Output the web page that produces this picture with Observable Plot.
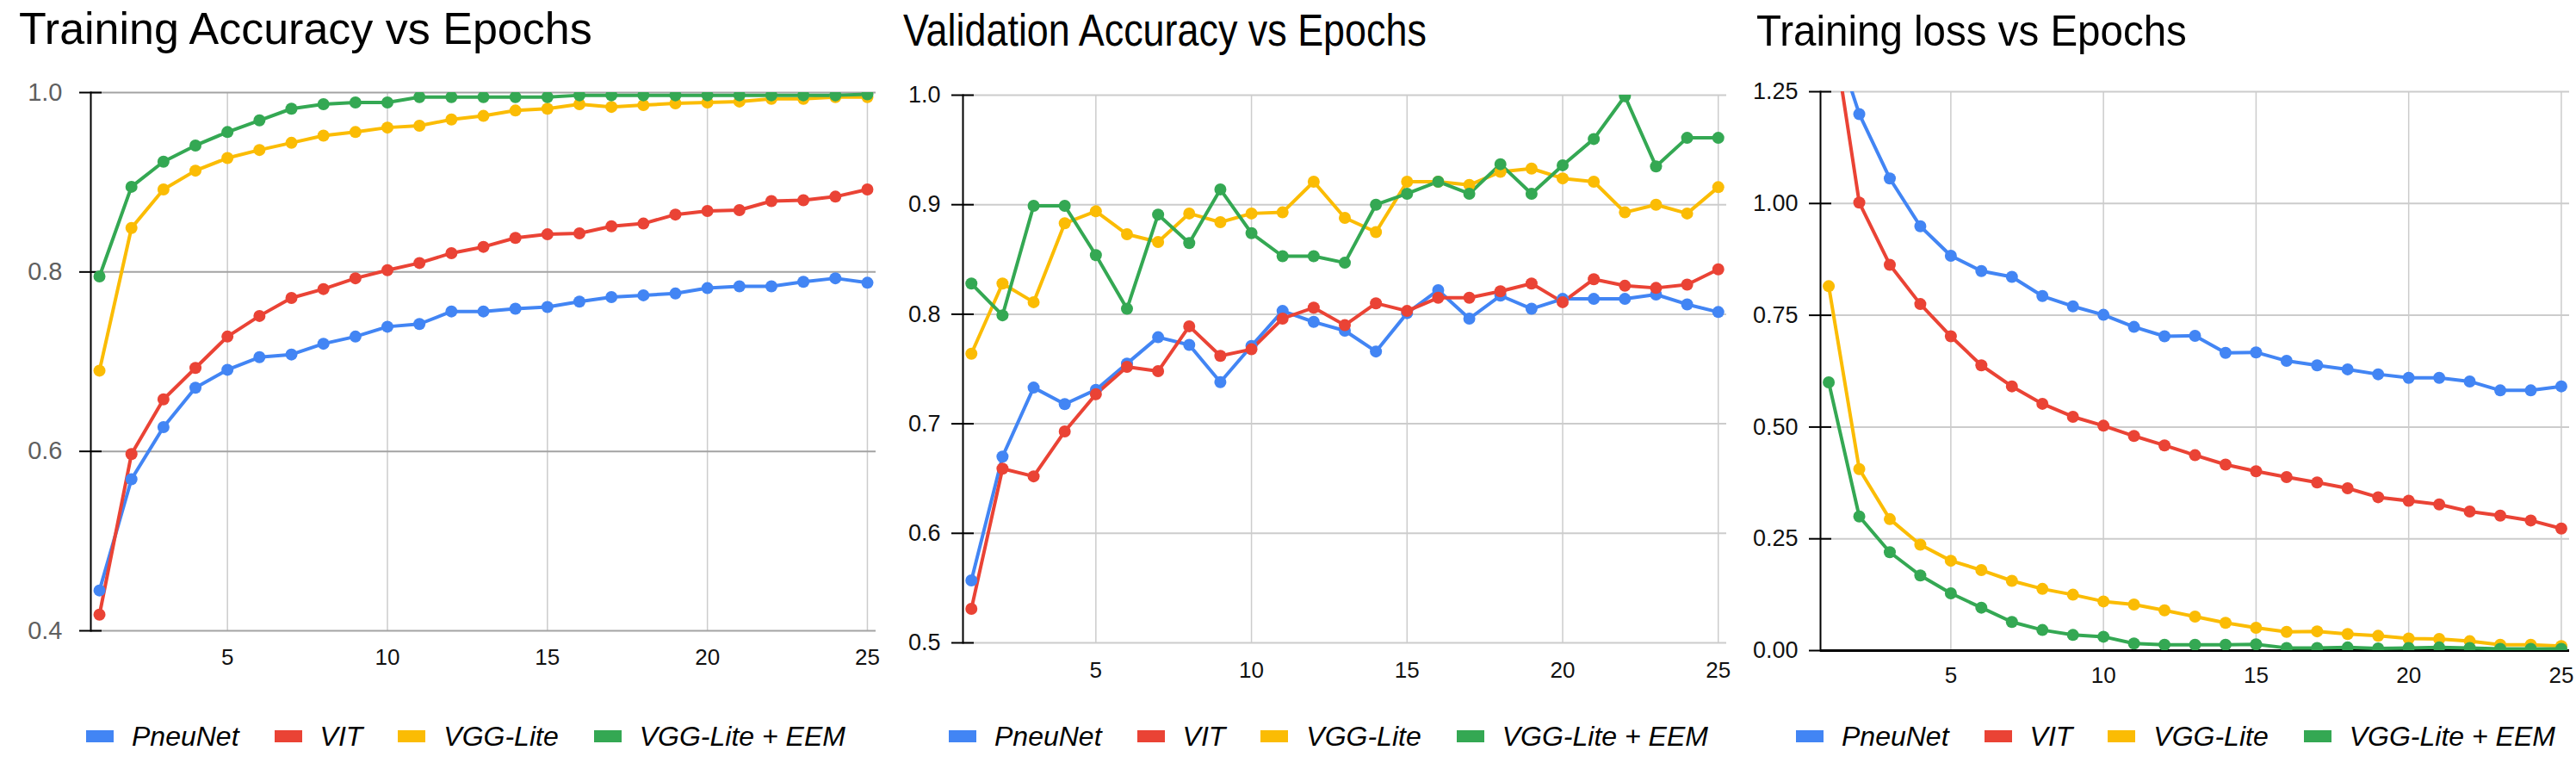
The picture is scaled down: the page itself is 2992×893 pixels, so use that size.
<!DOCTYPE html>
<html>
<head>
<meta charset="utf-8">
<script src="https://cdn.jsdelivr.net/npm/d3@7"></script>
<script src="https://cdn.jsdelivr.net/npm/@observablehq/plot@0.6"></script>
<style>
  html, body { margin: 0; padding: 0; background: #fff; }
  #root { position: relative; width: 2992px; height: 893px; overflow: hidden; background: #fff;
          font-family: "Liberation Sans", Arial, sans-serif; }
  .title { position: absolute; color: #000; white-space: nowrap; transform-origin: 0 0; }
  .legend { position: absolute; top: 835px; height: 40px; display: flex; align-items: center; white-space: nowrap; }
  .legend .item { display: flex; align-items: center; margin-right: 41px; }
  .legend .sw { width: 32px; height: 14px; margin-right: 21px; }
  .legend .lbl { font-size: 32px; font-style: italic; color: #000; }
  .panel { position: absolute; top: 0; }
</style>
</head>
<body>
<div id="root"></div>
<script>
// ---- data ----
const epochs = [1,2,3,4,5,6,7,8,9,10,11,12,13,14,15,16,17,18,19,20,21,22,23,24,25];
const seriesNames = ["PneuNet", "VIT", "VGG-Lite", "VGG-Lite + EEM"];
const seriesColors = ["#4285F4", "#EA4335", "#FBBC04", "#34A853"];
const xTicks = [5, 10, 15, 20, 25];

const titles = ["Training Accuracy vs Epochs", "Validation Accuracy vs Epochs", "Training loss vs Epochs"];

// Training accuracy
const trainAccPneuNet = [0.445,0.569,0.627,0.671,0.691,0.705,0.708,0.720,0.728,0.739,0.742,0.756,0.756,0.759,0.761,0.767,0.772,0.774,0.776,0.782,0.784,0.784,0.789,0.793,0.788];
const trainAccVIT     = [0.418,0.597,0.658,0.693,0.728,0.751,0.771,0.781,0.793,0.802,0.810,0.821,0.828,0.838,0.842,0.843,0.851,0.854,0.864,0.868,0.869,0.879,0.880,0.884,0.892];
const trainAccVGG     = [0.690,0.849,0.892,0.913,0.927,0.936,0.944,0.952,0.956,0.961,0.963,0.970,0.974,0.980,0.982,0.987,0.984,0.986,0.988,0.989,0.990,0.993,0.993,0.995,0.995];
const trainAccEEM     = [0.795,0.895,0.923,0.941,0.956,0.969,0.982,0.987,0.989,0.989,0.995,0.995,0.995,0.995,0.995,0.997,0.997,0.997,0.997,0.997,0.997,0.997,0.997,0.997,0.998];

// Validation accuracy
const valAccPneuNet = [0.557,0.670,0.733,0.718,0.731,0.755,0.779,0.772,0.738,0.771,0.803,0.793,0.785,0.766,0.801,0.822,0.796,0.817,0.805,0.814,0.814,0.814,0.818,0.809,0.802];
const valAccVIT     = [0.531,0.659,0.652,0.693,0.727,0.752,0.748,0.789,0.762,0.768,0.796,0.806,0.790,0.810,0.803,0.815,0.815,0.821,0.828,0.811,0.832,0.826,0.824,0.827,0.841];
const valAccVGG     = [0.764,0.828,0.811,0.883,0.894,0.873,0.866,0.892,0.884,0.892,0.893,0.921,0.888,0.875,0.921,0.921,0.918,0.930,0.933,0.924,0.921,0.893,0.900,0.892,0.916];
const valAccEEM     = [0.828,0.799,0.899,0.899,0.854,0.805,0.891,0.865,0.914,0.874,0.853,0.853,0.847,0.900,0.910,0.921,0.910,0.937,0.910,0.936,0.960,0.999,0.935,0.961,0.961];

// Training loss
const lossPneuNet = [1.41,1.200,1.056,0.949,0.883,0.849,0.836,0.793,0.770,0.751,0.724,0.703,0.704,0.666,0.667,0.648,0.638,0.629,0.618,0.610,0.610,0.602,0.582,0.582,0.591];
const lossVIT     = [1.45,1.002,0.863,0.775,0.703,0.638,0.591,0.552,0.523,0.503,0.480,0.459,0.437,0.416,0.401,0.388,0.376,0.363,0.343,0.335,0.327,0.311,0.302,0.291,0.273];
const lossVGG     = [0.815,0.406,0.294,0.237,0.201,0.180,0.156,0.138,0.125,0.110,0.103,0.090,0.076,0.062,0.051,0.042,0.043,0.037,0.033,0.027,0.026,0.021,0.013,0.013,0.010];
const lossEEM     = [0.600,0.300,0.220,0.168,0.128,0.096,0.064,0.046,0.035,0.031,0.016,0.013,0.013,0.013,0.014,0.006,0.006,0.007,0.005,0.006,0.007,0.006,0.004,0.004,0.004];

const yTicksTrain = [0.4, 0.6, 0.8, 1.0];
const yTicksVal   = [0.5, 0.6, 0.7, 0.8, 0.9, 1.0];
const yTicksLoss  = [0, 0.25, 0.5, 0.75, 1.0, 1.25];

// ---- build ----
function rows(seriesArrays) {
  const out = [];
  seriesArrays.forEach((arr, i) => arr.forEach((v, j) => out.push({epoch: epochs[j], value: v, series: seriesNames[i]})));
  return out;
}

const panels = [
  {title: titles[0], data: rows([trainAccPneuNet, trainAccVIT, trainAccVGG, trainAccEEM]),
   yDomain: [0.4, 1.0], yTicks: yTicksTrain, fmt: ".1f",
   left: 0, width: 1030, mL: 105, mR: 13, mT: 107, height: 800, mB: 68,
   gridY: "#a3a3a3", yText: "#5f5f5f", yFont: 29, yPad: 20, xPad: 21, baseline: false,
   titleX: 22, titleY: 7, titleSize: 52, titleScale: 1, legendX: 100},
  {title: titles[1], data: rows([valAccPneuNet, valAccVIT, valAccVGG, valAccEEM]),
   yDomain: [0.5, 1.0], yTicks: yTicksVal, fmt: ".1f",
   left: 1000, width: 1020, mL: 118, mR: 15, mT: 110, height: 800, mB: 54,
   gridY: "#cccccc", yText: "#111", yFont: 27, yPad: 13, xPad: 22, baseline: false,
   titleX: 1049, titleY: 10, titleSize: 51, titleScale: 0.88, legendX: 1102},
  {title: titles[2], data: rows([lossPneuNet, lossVIT, lossVGG, lossEEM]),
   yDomain: [0, 1.25], yTicks: yTicksLoss, fmt: ".2f",
   left: 2000, width: 992, mL: 114, mR: 8, mT: 106, height: 800, mB: 45,
   gridY: "#cccccc", yText: "#111", yFont: 27, yPad: 13, xPad: 19, baseline: true,
   titleX: 2040, titleY: 11, titleSize: 50, titleScale: 0.95, legendX: 2086}
];

const root = document.getElementById("root");

for (const p of panels) {
  const marks = [
    Plot.gridX({ticks: xTicks, stroke: "#cccccc", strokeOpacity: 1, strokeWidth: 1.5}),
    Plot.gridY({ticks: p.yTicks, stroke: p.gridY, strokeOpacity: 1, strokeWidth: 2}),
    Plot.axisX({ticks: xTicks, tickSize: 0, tickPadding: p.xPad, fill: "#111", fontSize: 26, label: null}),
    Plot.axisY({ticks: p.yTicks, tickSize: 26, dx: 13, tickPadding: p.yPad, tickFormat: d3.format(p.fmt),
                stroke: "#000", strokeWidth: 2, fill: p.yText, fontSize: p.yFont, label: null}),
    Plot.frame({anchor: "left", stroke: "#000", strokeWidth: 2})
  ];
  if (p.baseline) marks.push(Plot.ruleY([p.yDomain[0]], {stroke: "#000", strokeWidth: 3}));
  marks.push(
    Plot.line(p.data, {x: "epoch", y: "value", z: "series", stroke: "series", strokeWidth: 4, clip: true}),
    Plot.dot(p.data, {x: "epoch", y: "value", fill: "series", r: 7, clip: true})
  );
  const svg = Plot.plot({
    width: p.width, height: p.height,
    marginLeft: p.mL, marginRight: p.mR, marginTop: p.mT, marginBottom: p.mB,
    style: {background: "none", fontFamily: "'Liberation Sans', Arial, sans-serif", fontSize: "26px", overflow: "visible"},
    x: {domain: [0.73, 25.27], label: null},
    y: {domain: p.yDomain, label: null},
    color: {domain: seriesNames, range: seriesColors},
    marks
  });
  svg.classList.add("panel");
  svg.style.left = p.left + "px";
  svg.style.maxWidth = "none";
  root.appendChild(svg);

  const t = document.createElement("div");
  t.className = "title";
  t.textContent = p.title;
  t.style.left = p.titleX + "px";
  t.style.top = p.titleY + "px";
  t.style.fontSize = p.titleSize + "px";
  t.style.lineHeight = p.titleSize + "px";
  t.style.transform = `scaleX(${p.titleScale})`;
  root.appendChild(t);

  const lg = document.createElement("div");
  lg.className = "legend";
  lg.style.left = p.legendX + "px";
  seriesNames.forEach((name, i) => {
    const it = document.createElement("div");
    it.className = "item";
    const sw = document.createElement("div");
    sw.className = "sw";
    sw.style.background = seriesColors[i];
    const lb = document.createElement("span");
    lb.className = "lbl";
    lb.textContent = name;
    it.appendChild(sw); it.appendChild(lb);
    lg.appendChild(it);
  });
  root.appendChild(lg);
}
</script>
</body>
</html>
